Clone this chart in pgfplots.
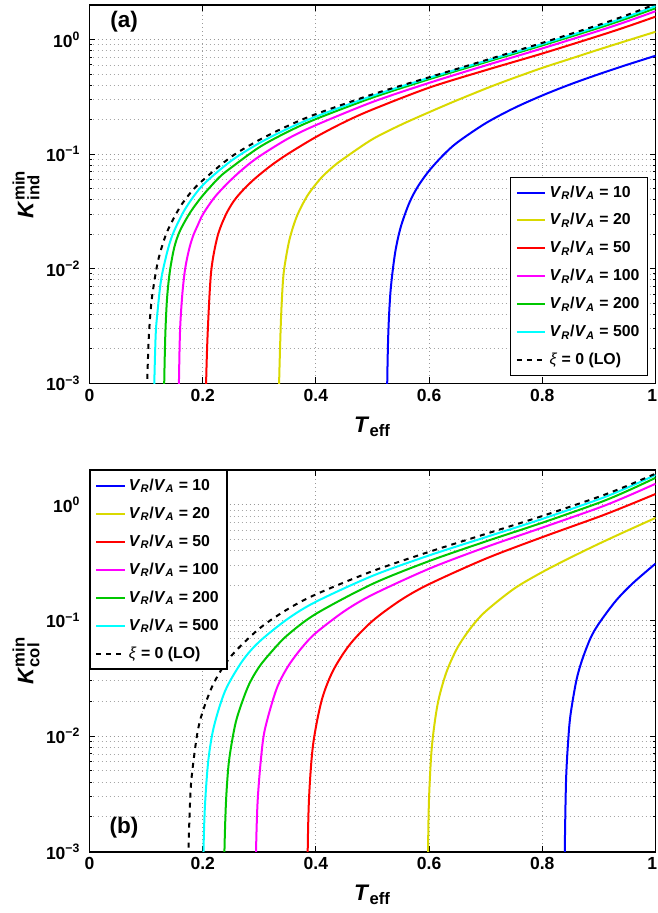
\documentclass[border=0pt]{standalone}
\usepackage{fontspec}
\setmainfont{Liberation Sans}
\usepackage{pgfplots}
\pgfplotsset{compat=1.18}
\definecolor{myyellow}{rgb}{0.85,0.85,0}
\definecolor{mygreen}{rgb}{0,0.78,0}
\definecolor{mycyan}{rgb}{0,1,1}
\definecolor{mymagenta}{rgb}{1,0,1}
\definecolor{myred}{rgb}{1,0,0}
\definecolor{myblue}{rgb}{0,0,1}
\pgfplotsset{
  myaxisstyle/.style={
    scale only axis, width=339.6pt,
    xmin=0, xmax=1, ymin=1e-3, ymax=2,
    xtick={0,0.2,0.4,0.6,0.8,1}, xticklabels={0,0.2,0.4,0.6,0.8,\hbox{1\kern4pt}},
    ytick={1e-3,1e-2,1e-1,1},
    yticklabels={10\textsuperscript{−3},10\textsuperscript{−2},10\textsuperscript{−1},10\textsuperscript{0}},
    minor ytick={2e-3,3e-3,4e-3,5e-3,6e-3,7e-3,8e-3,9e-3,2e-2,3e-2,4e-2,5e-2,6e-2,7e-2,8e-2,9e-2,0.2,0.3,0.4,0.5,0.6,0.7,0.8,0.9},
    xmajorgrids, ymajorgrids, yminorgrids,
    major grid style={dotted, gray!80, line width=0.5pt},
    minor grid style={dotted, gray!70, line width=0.5pt},
    tick align=inside, major tick length=3.6pt, minor tick length=1.8pt,
    tick style={black, line width=0.6pt},
    axis line style={line width=1pt},
    ticklabel style={font=\bfseries\fontsize{10.5}{12}\selectfont},
    yticklabel style={xshift=-2pt},
    xlabel style={at={(axis description cs:0.5,0)}, anchor=base, yshift=-29.4pt, font=\bfseries\fontsize{13.5}{15}\selectfont},
    ylabel style={at={(axis description cs:0,0.5)}, anchor=center, yshift=38pt, font=\bfseries\fontsize{13.5}{15}\selectfont},
    xlabel={\textit{T}$_{\mbox{\fontsize{10}{10}\selectfont eff}}$},
    legend style={font=\bfseries\fontsize{9.5}{11}\selectfont, draw=black, line width=0.8pt, fill=white, row sep=4.4pt, inner sep=3pt, cells={anchor=west}},
    legend cell align=left,
    every axis plot/.append style={line width=1.2pt, line join=round, smooth, tension=0.5},
  }
}
\begin{document}
\begin{tikzpicture}
\begin{axis}[ymode=log, myaxisstyle, height=227pt, at={(0,0)}, anchor=north west,
  ylabel={\textit{K}$^{\mbox{\fontsize{10}{10}\selectfont min}}_{\mbox{\fontsize{10}{10}\selectfont ind}}$},
  legend style={at={(0.9876,0.0185)}, anchor=south east}]
\addplot[myblue] coordinates {(0.5252,0.0003)(0.526,0.001)(0.528,0.0028)(0.532,0.0065)(0.54,0.0138)(0.55,0.0232)(0.565,0.0375)(0.58,0.052)(0.6,0.0716)(0.625,0.098)(0.65,0.1266)(0.7,0.1861)(0.75,0.2519)(0.8,0.3249)(0.85,0.407)(0.9,0.4984)(0.95,0.6025)(1.0,0.7215)};
\addlegendentry{\textit{V}\textsubscript{\textit{R}}/\textit{V}\textsubscript{\textit{A}} = 10}
\addplot[myyellow] coordinates {(0.3342,0.0004)(0.335,0.001)(0.338,0.0033)(0.341,0.0068)(0.344,0.01)(0.353,0.0177)(0.366,0.0284)(0.385,0.0434)(0.408,0.061)(0.43,0.0774)(0.45,0.092)(0.5,0.135)(0.55,0.18)(0.6,0.232)(0.65,0.296)(0.7,0.3727)(0.725,0.416)(0.75,0.462)(0.8,0.5656)(0.85,0.68)(0.9,0.818)(0.95,0.978)(1.0,1.168)};
\addlegendentry{\textit{V}\textsubscript{\textit{R}}/\textit{V}\textsubscript{\textit{A}} = 20}
\addplot[myred] coordinates {(0.2051,0.0004)(0.206,0.001)(0.209,0.0029)(0.215,0.0095)(0.226,0.019)(0.24,0.029)(0.255,0.039)(0.272,0.049)(0.292,0.061)(0.32,0.079)(0.35,0.1)(0.4,0.141)(0.45,0.19)(0.5,0.245)(0.6,0.38)(0.7,0.54)(0.8,0.7549)(0.9,1.0766)(0.95,1.2976)(1.0,1.5813)};
\addlegendentry{\textit{V}\textsubscript{\textit{R}}/\textit{V}\textsubscript{\textit{A}} = 50}
\addplot[mymagenta] coordinates {(0.1572,0.0004)(0.158,0.001)(0.16,0.0029)(0.164,0.006)(0.169,0.01)(0.176,0.0148)(0.183,0.0193)(0.191,0.0238)(0.201,0.0302)(0.222,0.0426)(0.249,0.059)(0.275,0.077)(0.3,0.0955)(0.35,0.1359)(0.4,0.179)(0.5,0.2849)(0.6,0.4182)(0.7,0.594)(0.8,0.8364)(0.9,1.1918)(0.95,1.44)(1.0,1.7637)};
\addlegendentry{\textit{V}\textsubscript{\textit{R}}/\textit{V}\textsubscript{\textit{A}} = 100}
\addplot[mygreen] coordinates {(0.1312,0.0004)(0.132,0.001)(0.134,0.0027)(0.137,0.0055)(0.142,0.0095)(0.15,0.0155)(0.16,0.0215)(0.178,0.031)(0.2,0.0435)(0.229,0.0625)(0.25,0.076)(0.3,0.1148)(0.35,0.1563)(0.4,0.2023)(0.5,0.3111)(0.6,0.4501)(0.7,0.634)(0.8,0.8884)(0.9,1.2639)(0.95,1.5277)(1.0,1.8737)};
\addlegendentry{\textit{V}\textsubscript{\textit{R}}/\textit{V}\textsubscript{\textit{A}} = 200}
\addplot[mycyan] coordinates {(0.1136,0.0004)(0.1145,0.001)(0.117,0.0027)(0.12,0.00412)(0.125,0.0071)(0.13,0.00986)(0.14,0.0157)(0.15,0.02162)(0.17,0.0338)(0.2,0.0535)(0.25,0.0871)(0.3,0.1248)(0.35,0.1664)(0.4,0.2126)(0.5,0.3223)(0.6,0.4631)(0.7,0.6505)(0.8,0.9123)(0.9,1.3037)(0.95,1.5823)(1.0,1.954)};
\addlegendentry{\textit{V}\textsubscript{\textit{R}}/\textit{V}\textsubscript{\textit{A}} = 500}
\addplot[black, dashed] coordinates {(0.1013,0.0004)(0.102,0.001)(0.105,0.00265)(0.11,0.00543)(0.12,0.01106)(0.13,0.0168)(0.14,0.02262)(0.16,0.03459)(0.18,0.04699)(0.2,0.059)(0.25,0.0945)(0.3,0.133)(0.35,0.176)(0.4,0.2235)(0.5,0.332)(0.6,0.468)(0.7,0.66)(0.8,0.9345)(0.9,1.3426)(0.95,1.637)(1.0,2.033)};
\addlegendentry{\textnormal{\textit{ξ}} = 0 (LO)}
\node[font=\bfseries\fontsize{13.5}{15}\selectfont] at (rel axis cs:0.061,0.955) {(a)};
\end{axis}
\begin{axis}[ymode=log, myaxisstyle, height=229pt, at={(0,-279pt)}, anchor=north west,
  ylabel={\textit{K}$^{\mbox{\fontsize{10}{10}\selectfont min}}_{\mbox{\fontsize{10}{10}\selectfont col}}$},
  legend style={at={(0,1)}, anchor=north west}]
\addplot[myblue] coordinates {(0.8392,0.0003)(0.8397,0.001)(0.842,0.0042)(0.846,0.0095)(0.85,0.0155)(0.86,0.03)(0.87,0.045)(0.885,0.07)(0.9,0.094)(0.93,0.148)(0.96,0.21)(1.0,0.31)};
\addlegendentry{\textit{V}\textsubscript{\textit{R}}/\textit{V}\textsubscript{\textit{A}} = 10}
\addplot[myyellow] coordinates {(0.5976,0.0003)(0.5981,0.001)(0.6,0.003)(0.605,0.0082)(0.615,0.0188)(0.63,0.035)(0.65,0.058)(0.675,0.088)(0.7,0.12)(0.75,0.188)(0.8,0.262)(0.85,0.35)(0.9,0.4604)(0.95,0.5976)(1.0,0.77)};
\addlegendentry{\textit{V}\textsubscript{\textit{R}}/\textit{V}\textsubscript{\textit{A}} = 20}
\addplot[myred] coordinates {(0.385,0.0003)(0.3855,0.001)(0.388,0.003)(0.395,0.0084)(0.41,0.0202)(0.43,0.0365)(0.46,0.062)(0.5,0.099)(0.55,0.15)(0.6,0.206)(0.7,0.342)(0.8,0.525)(0.9,0.7883)(0.95,0.9832)(1.0,1.24)};
\addlegendentry{\textit{V}\textsubscript{\textit{R}}/\textit{V}\textsubscript{\textit{A}} = 50}
\addplot[mymagenta] coordinates {(0.2937,0.0004)(0.2942,0.001)(0.297,0.0027)(0.303,0.0064)(0.31,0.0115)(0.33,0.0252)(0.35,0.0395)(0.375,0.058)(0.4,0.078)(0.45,0.12)(0.5,0.167)(0.6,0.28)(0.7,0.43)(0.8,0.635)(0.9,0.9433)(0.95,1.1853)(1.0,1.52)};
\addlegendentry{\textit{V}\textsubscript{\textit{R}}/\textit{V}\textsubscript{\textit{A}} = 100}
\addplot[mygreen] coordinates {(0.2379,0.0004)(0.2384,0.001)(0.241,0.0026)(0.245,0.0052)(0.25,0.008)(0.26,0.0141)(0.28,0.0267)(0.3,0.0398)(0.325,0.056)(0.35,0.0748)(0.4,0.114)(0.5,0.207)(0.6,0.326)(0.7,0.482)(0.8,0.7)(0.9,1.0408)(0.95,1.3164)(1.0,1.71)};
\addlegendentry{\textit{V}\textsubscript{\textit{R}}/\textit{V}\textsubscript{\textit{A}} = 200}
\addplot[mycyan] coordinates {(0.2009,0.0004)(0.2014,0.001)(0.204,0.0025)(0.21,0.0062)(0.22,0.0122)(0.24,0.0248)(0.27,0.0445)(0.3,0.0655)(0.35,0.103)(0.4,0.145)(0.5,0.243)(0.6,0.365)(0.7,0.525)(0.8,0.755)(0.9,1.1171)(0.95,1.4037)(1.0,1.81)};
\addlegendentry{\textit{V}\textsubscript{\textit{R}}/\textit{V}\textsubscript{\textit{A}} = 500}
\addplot[black, dashed] coordinates {(0.1744,0.0004)(0.1749,0.001)(0.177,0.0022)(0.18,0.0042)(0.19,0.0102)(0.2,0.0163)(0.22,0.029)(0.25,0.049)(0.3,0.085)(0.35,0.125)(0.4,0.168)(0.5,0.267)(0.6,0.392)(0.7,0.56)(0.8,0.8)(0.9,1.174)(0.95,1.4606)(1.0,1.86)};
\addlegendentry{\textnormal{\textit{ξ}} = 0 (LO)}
\node[font=\bfseries\fontsize{13.5}{15}\selectfont] at (rel axis cs:0.061,0.063) {(b)};
\end{axis}
\pgfresetboundingbox
\path (-53.7pt,3pt) rectangle (340.5pt,-544.8pt);
\end{tikzpicture}
\end{document}
